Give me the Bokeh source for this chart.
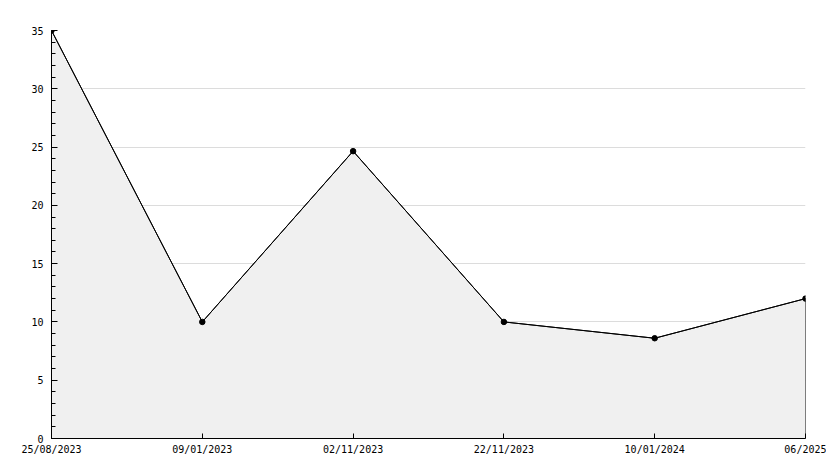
from bokeh.plotting import figure
from bokeh.models import Range1d, FixedTicker, ColumnDataSource
from bokeh.embed import file_html
from bokeh.resources import INLINE

# Data
dates = ["25/08/2023", "09/01/2023", "02/11/2023", "22/11/2023", "10/01/2024", "06/2025"]
values = [35, 10, 24.65, 10, 8.6, 12]
y_major = [0, 5, 10, 15, 20, 25, 30, 35]
y_minor = list(range(0, 36))

idx = list(range(len(dates)))

p = figure(width=826, height=460, output_backend="svg", toolbar_location=None,
           x_range=Range1d(0, len(dates) - 1), y_range=Range1d(0, 35),
           min_border_left=51, min_border_right=21, min_border_top=30, min_border_bottom=22)
p.outline_line_color = None
p.background_fill_color = "white"
p.border_fill_color = "white"

# area polygon built from the data
px = idx + [idx[-1], idx[0]]
py = values + [0, 0]
p.patch(px, py, fill_color="#f0f0f0", line_color="black", line_width=1)
src = ColumnDataSource(dict(x=idx, y=values))
p.line("x", "y", source=src, line_color="black", line_width=1)
p.scatter("x", "y", source=src, marker="circle", size=5.5, fill_color="black", line_color="black")

# axes
p.xaxis.ticker = FixedTicker(ticks=idx)
p.xaxis.major_label_overrides = {i: d for i, d in zip(idx, dates)}
p.yaxis.ticker = FixedTicker(ticks=y_major, minor_ticks=y_minor)

for ax in (p.xaxis[0], p.yaxis[0]):
    ax.axis_line_color = "black"
    ax.axis_line_width = 1
    ax.major_tick_line_color = "black"
    ax.minor_tick_line_color = "black"
    ax.major_tick_in = 6
    ax.major_tick_out = 0
    ax.minor_tick_in = 4
    ax.minor_tick_out = 0
    ax.major_label_text_font = "DejaVu Sans Mono"
    ax.major_label_text_font_size = "10px"
    ax.major_label_text_color = "black"

p.xaxis.major_tick_in = 5
p.xaxis.minor_tick_line_color = None
p.xaxis.major_label_standoff = 5
p.yaxis.major_label_standoff = 8

p.xgrid.grid_line_color = None
p.ygrid.grid_line_color = "#dcdcdc"
p.ygrid.grid_line_width = 1

open("out.html", "w").write(file_html(p, INLINE))
